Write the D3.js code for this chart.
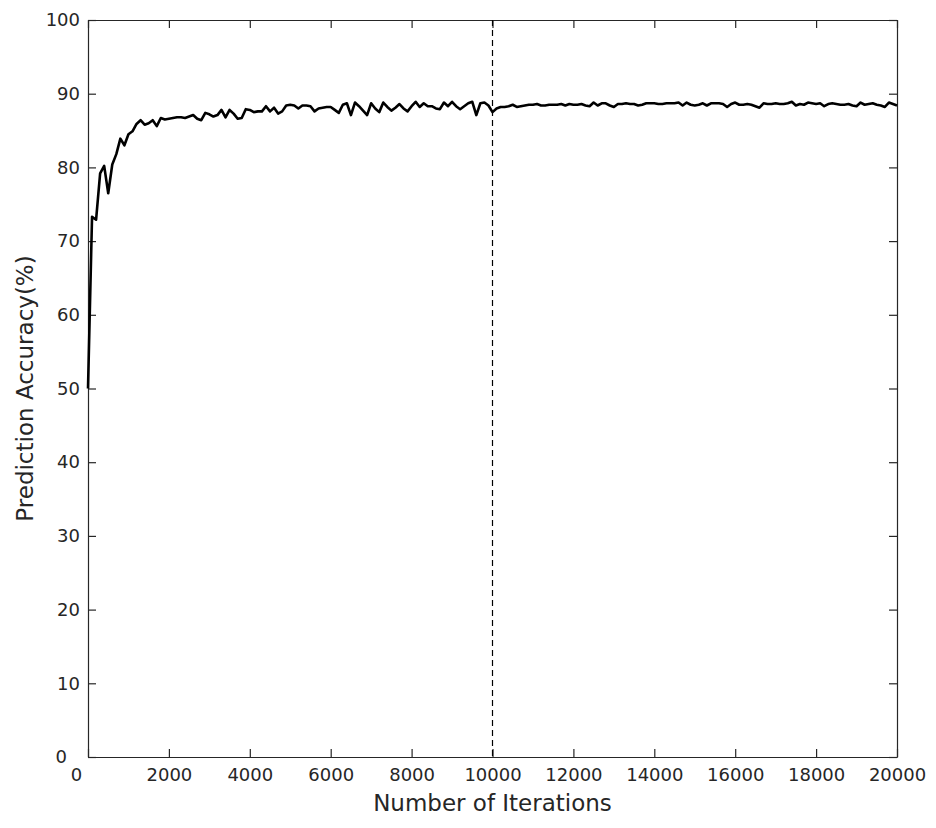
<!DOCTYPE html>
<html>
<head>
<meta charset="utf-8">
<script src="https://cdn.jsdelivr.net/npm/d3@7"></script>
<style>
  body { margin: 0; background: #fff; }
  text { font-family: "DejaVu Sans", sans-serif; fill: #262626; }
</style>
</head>
<body>
<div id="container"></div>
<script>
// iterations go 0, 100, 200 ... 20000
var iterStep = 100;
var accuracy = [
  50.0, 73.3, 72.9, 79.2, 80.2, 76.5, 80.4, 81.8, 83.9, 83.0,
  84.5, 84.9, 85.9, 86.4, 85.8, 86.0, 86.4, 85.6, 86.7, 86.5,
  86.6, 86.7, 86.8, 86.8, 86.7, 86.9, 87.1, 86.6, 86.4, 87.4,
  87.2, 86.9, 87.1, 87.8, 86.8, 87.8, 87.3, 86.6, 86.7, 87.9,
  87.8, 87.5, 87.6, 87.6, 88.3, 87.6, 88.1, 87.3, 87.6, 88.4,
  88.5, 88.4, 88.0, 88.4, 88.4, 88.3, 87.6, 88.0, 88.1, 88.2,
  88.2, 87.8, 87.4, 88.5, 88.7, 87.1, 88.8, 88.3, 87.7, 87.1,
  88.7, 88.0, 87.5, 88.8, 88.2, 87.7, 88.1, 88.6, 88.0, 87.6,
  88.3, 88.9, 88.2, 88.7, 88.3, 88.3, 88.0, 87.9, 88.8, 88.3,
  88.9, 88.3, 87.9, 88.3, 88.7, 88.9, 87.1, 88.7, 88.8, 88.4,
  87.5, 88.0, 88.2, 88.2, 88.3, 88.5, 88.2, 88.3, 88.4, 88.5,
  88.5, 88.6, 88.4, 88.4, 88.5, 88.5, 88.5, 88.6, 88.4, 88.6,
  88.5, 88.5, 88.6, 88.4, 88.3, 88.8, 88.4, 88.7, 88.7, 88.4,
  88.2, 88.6, 88.6, 88.7, 88.6, 88.6, 88.4, 88.5, 88.7, 88.7,
  88.7, 88.6, 88.6, 88.7, 88.7, 88.7, 88.8, 88.4, 88.8, 88.5,
  88.4, 88.5, 88.7, 88.4, 88.7, 88.7, 88.7, 88.6, 88.2, 88.6,
  88.8, 88.5, 88.5, 88.6, 88.5, 88.3, 88.1, 88.7, 88.6, 88.6,
  88.7, 88.6, 88.6, 88.7, 88.9, 88.4, 88.6, 88.5, 88.8, 88.7,
  88.6, 88.7, 88.3, 88.6, 88.7, 88.6, 88.5, 88.5, 88.6, 88.4,
  88.3, 88.8, 88.5, 88.6, 88.7, 88.5, 88.4, 88.2, 88.8, 88.6,
  88.4
];
var xTicks = [0, 2000, 4000, 6000, 8000, 10000, 12000, 14000, 16000, 18000, 20000];
var yTicks = [0, 10, 20, 30, 40, 50, 60, 70, 80, 90, 100];
var splitIter = 10000;

var W = 936, H = 828,
    margin = {top: 20, right: 39, bottom: 71, left: 88},
    width = W - margin.left - margin.right,
    height = H - margin.top - margin.bottom;

var svg = d3.select("#container").append("svg").attr("width", W).attr("height", H);
var g = svg.append("g").attr("transform", "translate(" + margin.left + "," + margin.top + ")");

var x = d3.scaleLinear().domain([0, 20000]).range([0, width]);
var y = d3.scaleLinear().domain([0, 100]).range([height, 0]);

// axes, MATLAB style: ticks inside, box on
var tl = 8;
var xAxis = g.append("g").attr("transform", "translate(0," + height + ")")
  .call(d3.axisBottom(x).tickValues(xTicks).tickSizeInner(-tl).tickSizeOuter(0).tickPadding(11).tickFormat(d3.format("d")));
var yAxis = g.append("g")
  .call(d3.axisLeft(y).tickValues(yTicks).tickSizeInner(-tl).tickSizeOuter(0).tickPadding(8));
g.append("g")
  .call(d3.axisTop(x).tickValues(xTicks).tickSizeInner(-tl).tickSizeOuter(0).tickFormat(""));
g.append("g").attr("transform", "translate(" + width + ",0)")
  .call(d3.axisRight(y).tickValues(yTicks).tickSizeInner(-tl).tickSizeOuter(0).tickFormat(""));

g.selectAll(".domain").attr("stroke", "#262626").attr("stroke-width", 1.2);
g.selectAll(".tick line").attr("stroke", "#262626").attr("stroke-width", 1.2);
g.selectAll(".tick text").style("font-size", "18px").attr("fill", "#262626");
// both "0" labels at the corner are nudged left, as in the original
xAxis.selectAll(".tick text").filter(function(d) { return d === 0; }).attr("dx", -12);
yAxis.selectAll(".tick text").filter(function(d) { return d === 0; }).attr("dx", -13);

// vertical dashed split line
g.append("line")
  .attr("x1", x(splitIter)).attr("x2", x(splitIter))
  .attr("y1", 0).attr("y2", height)
  .attr("stroke", "#000").attr("stroke-width", 1.2)
  .attr("stroke-dasharray", "6,4");

var line = d3.line()
  .x(function(d, i) { return x(i * iterStep); })
  .y(function(d) { return y(d); });

g.append("path")
  .datum(accuracy)
  .attr("d", line)
  .attr("fill", "none")
  .attr("stroke", "#000")
  .attr("stroke-width", 2.6)
  .attr("stroke-linejoin", "round");

// axis titles
svg.append("text")
  .attr("x", margin.left + width / 2).attr("y", 811)
  .attr("text-anchor", "middle")
  .style("font-size", "23px")
  .text("Number of Iterations");

svg.append("text")
  .attr("transform", "translate(33," + (margin.top + height / 2) + ") rotate(-90)")
  .attr("text-anchor", "middle")
  .style("font-size", "23px")
  .text("Prediction Accuracy(%)");
</script>
</body>
</html>
